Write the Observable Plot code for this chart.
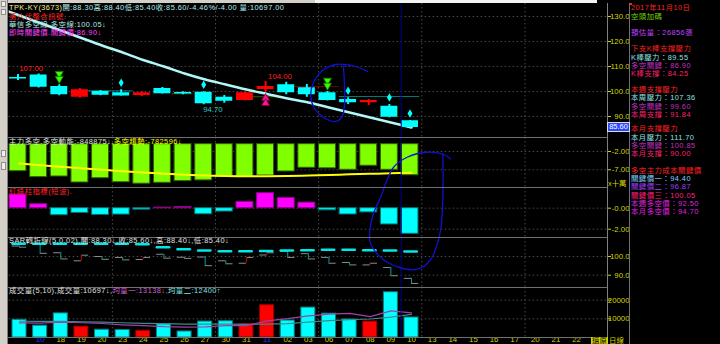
<!DOCTYPE html>
<html><head><meta charset="utf-8">
<script src="https://cdn.jsdelivr.net/npm/d3@7"></script>
<script src="https://cdn.jsdelivr.net/npm/@observablehq/plot@0.6"></script>
<style>
html,body{margin:0;padding:0;background:#000;}
#wrap{position:relative;width:720px;height:344px;background:#000;overflow:hidden;font-family:"Liberation Sans","Noto Sans CJK TC",sans-serif;font-size:7.4px;}
.t{position:absolute;white-space:nowrap;line-height:8px;height:8px;letter-spacing:0.45px;}
.b{position:absolute;}
#wrap svg{position:absolute;left:0;overflow:visible;}
</style></head><body><div id="wrap"></div>
<script>
// ---------------- data ----------------
const dateLabels = ["","10","18","19","20","23","24","25","26","27","30","31","11","02","03","06","07","08","09","10","13","14","15","16","17","20","21","22"];
const monthIdx = [1, 12];
const weekStarts = [5, 10, 15, 20, 25];
const opens  = [105.6,106.6,102.0, 97.7,100.0, 99.5, 98.4,101.2, 99.6, 99.7, 97.7, 96.4,100.8,102.7,101.5, 99.5, 96.8, 95.5, 94.1, 88.3];
const highs  = [106.8,107.0,102.7,101.2,100.4,100.7, 99.9,101.6, 99.9, 99.9, 98.4, 99.8,104.0,103.7,102.8,100.0, 97.5, 96.8, 94.8, 88.4];
const lows   = [104.4,101.4, 98.3, 97.3, 98.3, 98.2, 98.0, 99.0, 98.7, 94.7, 95.3, 96.2, 99.7, 98.7, 97.7, 96.2, 94.8, 94.4, 89.5, 85.4];
const closes = [105.0,101.7, 98.7,100.7, 98.5, 98.2, 99.5, 99.1, 99.0, 95.1, 96.1, 99.5,102.0, 99.5, 98.7, 96.4, 95.5, 96.4, 89.7, 85.6];
// price moving average, starting one bar before the first candle (index -1)
const priceMA = [133.4,130.4,127.4,124.4,121.4,118.4,115.6,112.6,110.0,107.2,104.8,102.8,100.8,99.0,97.2,95.6,93.6,91.6,89.6,87.6,85.6];
const sellSignalIdx = [2, 15];
const buySignalIdx = [12];
const diamondIdx = [5, 9, 16, 18, 19];
const extremeLabels = [{i:1, v:107.00, type:"high"}, {i:12, v:104.00, type:"high"}, {i:9, v:94.70, type:"low"}];
const keySegments = [
  {a:3.3, b:5.5, v:100.3, kind:"teal"},
  {a:7.4, b:8.4, v:99.1, kind:"olive"},
  {a:11.3, b:12.5, v:97.9, kind:"olive"},
  {a:13.3, b:15.5, v:102.0, kind:"red"},
  {a:15.5, b:19.4, v:98.0, kind:"teal"}
];
const mainForce = [-7.38,-9.0,-8.83,-10.47,-9.3,-10.4,-10.8,-10.55,-10.1,-9.9,-9.0,-9.0,-8.56,-7.46,-6.45,-6.6,-7.0,-5.9,-7.0,-8.49];
const forceTrend = [-5.3,-5.75,-6.2,-6.6,-7.0,-7.4,-7.75,-8.05,-8.35,-8.55,-8.7,-8.75,-8.75,-8.7,-8.55,-8.4,-8.25,-8.1,-7.95,-7.83];
const redGreen = [1.30,0.38,-0.67,-0.45,-0.64,-0.61,-0.14,0.05,0.10,-0.58,-0.32,0.60,1.43,0.98,0.53,-0.20,-0.60,-0.40,-1.55,-2.44];
const sar = [106.8,106.8,106.8,106.8,106.8,106.8,106.5,105.0,103.9,103.2,102.8,102.8,103.0,103.2,103.4,103.6,103.6,103.4,103.2,102.7];
const volume = [9450,6340,12900,5800,4150,3990,3600,7050,3220,8520,8690,7050,17270,9070,16000,12730,9620,8520,24200,10697];
const volMA5 = [7800,7700,8200,7900,7500,6800,6300,5800,5600,5700,6300,6400,8900,10100,11600,12500,12900,11200,14200,13138];
const volMA10 = [8700,8600,8600,8400,8200,7900,7600,7400,7200,7100,7100,7000,7200,7400,8200,9000,9500,9900,10900,12400];
const priceTicks = [90,100,110,120,130];
const forceTicks = [-2,-7];
const rgTicks = [0,-2], rgTickLabels = ["-0.00","-2.00"];
const sarTicks = [90,100];
const volTicks = [10000,20000];
const cursorIdx = [18.5];
// hand-drawn annotation strokes (bar index, price-axis units)
const scribble1 = [[16.87,108],[16.29,110],[15.70,110.8],[15.32,110.8],[14.69,108.4],[14.25,103.6],[14.11,98.4],[14.30,93.2],[14.74,89.6],[15.27,88],[15.61,89.6],[15.75,94.4],[15.75,102.4],[15.70,110]];
const scribble2 = [[20.52,75.2],[20.52,57.6],[20.41,44.4],[20.25,39.1],[20.0,33.7],[19.6,30.0],[19.11,28.7],[18.47,29.5],[17.82,31.7],[17.5,33.7],[17.1,37.7],[16.98,40.4],[17.1,49.7],[17.5,57.7],[18.13,69.7],[18.79,73.7],[19.76,75.7],[20.57,74.8],[20.89,73.1]];
const quote = {name:"TPK-KY(3673)", pct:"-4.46%", chg:"-4.00", vol:"10697.00"};
const infoTexts = ["2017年11月10日","空頭加碼","預估量：26856張","下支K棒支撐壓力","K棒壓力：89.55","多空關鍵：86.90","K棒支撐：84.25","本週支撐壓力","本周壓力：107.36","多空關鍵：99.60","本周支撐：91.84","本月支撐壓力","本月壓力：111.70","多空關鍵：100.85","本月支撐：90.00","多空主力成本關鍵價","關鍵價一：94.40","關鍵價二：96.87","關鍵價三：100.05","本週多空價：92.50","本月多空價：94.70"];

// ---------------- layout ----------------
const wrap = document.getElementById("wrap");
function div(cls, css, html) { const d = document.createElement("div"); d.className = cls; d.style.cssText = css; if (html != null) d.innerHTML = html; wrap.appendChild(d); return d; }
function place(svg, top) { svg.style.top = top + "px"; wrap.appendChild(svg); return svg; }

const idx = d3.range(20);
const candles = idx.map(i => ({i, o: opens[i], h: highs[i], l: lows[i], c: closes[i], up: closes[i] >= opens[i]}));
const CYAN = "#00ffff", RED = "#ff0000", GRID = "#4a4a4a", AX = "#d4d400";
const common = {
  width: 630, marginLeft: 8.7, marginRight: 23, marginTop: 0, marginBottom: 0,
  x: {domain: [-0.5, 28.5], axis: null},
  color: {type: "identity"},
  style: {background: "transparent", color: AX, fontSize: "7.8px", fontFamily: "'Liberation Sans', 'Noto Sans CJK TC', sans-serif", overflow: "visible"}
};
const gridOpts = {stroke: GRID, strokeOpacity: 1, strokeDasharray: "1.5,2.5"};
const vgrid = () => Plot.gridX(weekStarts.map(d => d - 0.5), gridOpts);
const yAxis = (ticks, fmt) => Plot.axisY(ticks, {anchor: "right", tickSize: 3, tickPadding: 19, textAnchor: "end", tickFormat: fmt, color: AX, label: null});

// top & left chrome
div("b", "left:0;top:0;width:7px;height:344px;background:#d4d0c8;border-right:1px solid #808080;");
[[1,6],[9,6],[150,7],[162,8]].forEach(([t,h]) => div("b", `left:1px;top:${t}px;width:5px;height:${h}px;background:#f0f0f0;border:1px solid #909090;box-sizing:border-box;`));
div("b", "left:8px;top:0;width:307px;height:3px;background:#d4d0c8;");
div("b", "left:315px;top:0;width:282px;height:3px;background:#f4f4f4;");

// ---- panel 1: price ----
const keyColor = {teal: "#007878", olive: "#3c5a00", red: "#7a0000"};
const p1 = Plot.plot({...common, height: 134, y: {domain: [81.6, 135.2]},
  marks: [
    Plot.gridY(priceTicks, gridOpts), vgrid(),
    Plot.ruleY(keySegments, {y: "v", x1: "a", x2: "b", stroke: d => keyColor[d.kind], strokeWidth: 1}),
    Plot.line(priceMA, {x: (d, i) => i - 1, y: d => d, stroke: "#b0f8f8", strokeWidth: 2.5, curve: "catmull-rom", clip: true}),
    Plot.ruleX(candles, {x: "i", y1: "l", y2: "h", stroke: d => d.up ? RED : CYAN, strokeWidth: 2, dx: -1.5}),
    Plot.rect(candles, {x1: d => d.i - 0.41, x2: d => d.i + 0.41, y1: "o", y2: "c", fill: d => d.up ? RED : CYAN, dx: -1.5}),
    Plot.dot(sellSignalIdx, {x: d => d, y: d => highs[d], symbol: "triangle", rotate: 180, r: 3, fill: "#33ff00", stroke: "#1a7000", strokeWidth: 0.8, dy: -11, dx: -1.5}),
    Plot.dot(sellSignalIdx, {x: d => d, y: d => highs[d], symbol: "triangle", rotate: 180, r: 3, fill: "#33ff00", stroke: "#1a7000", strokeWidth: 0.8, dy: -6, dx: -1.5}),
    Plot.dot(buySignalIdx, {x: d => d, y: d => lows[d], symbol: "triangle", r: 3, fill: "#ff1493", stroke: "#800040", strokeWidth: 0.8, dy: 6, dx: -1.5}),
    Plot.dot(buySignalIdx, {x: d => d, y: d => lows[d], symbol: "triangle", r: 3, fill: "#ff1493", stroke: "#800040", strokeWidth: 0.8, dy: 11, dx: -1.5}),
    Plot.dot(diamondIdx, {x: d => d, y: d => highs[d], symbol: "diamond", r: 2.6, fill: CYAN, dy: -7, dx: -1.5}),
    Plot.text(extremeLabels.filter(d => d.type === "high" && d.i < 5), {x: "i", y: "v", text: d => d.v.toFixed(2), fill: "#ff2020", textAnchor: "end", dx: 3, dy: -5.5}),
    Plot.text(extremeLabels.filter(d => d.type === "high" && d.i >= 5), {x: "i", y: "v", text: d => d.v.toFixed(2), fill: "#ff2020", textAnchor: "start", dx: 1, dy: -5}),
    Plot.text(extremeLabels.filter(d => d.type === "low"), {x: "i", y: "v", text: d => d.v.toFixed(2), fill: "#30c8c8", textAnchor: "start", dx: -2, dy: 4.5}),
    yAxis(priceTicks, d => d.toFixed(1))
  ]});
place(p1, 3);

// ---- panel 2: main force ----
const p2 = Plot.plot({...common, height: 50, y: {domain: [-11.84, 1.825]},
  marks: [
    Plot.gridY(forceTicks, gridOpts), vgrid(),
    Plot.rect(idx, {x1: i => i - 0.41, x2: i => i + 0.41, y1: 0, y2: i => mainForce[i], fill: "#80ff00", stroke: "#2e6400", strokeWidth: 1, dx: -1.5}),
    Plot.line(idx, {x: i => i, y: i => forceTrend[i], stroke: "#ffff00", strokeWidth: 2, curve: "catmull-rom"}),
    yAxis(forceTicks, d => d.toFixed(2))
  ]});
place(p2, 137);

// ---- panel 3: red/green histogram ----
const p3 = Plot.plot({...common, height: 50, y: {domain: [-2.79, 1.97]},
  marks: [
    Plot.gridY(rgTicks, gridOpts), vgrid(),
    Plot.rect(idx, {x1: i => i - 0.41, x2: i => i + 0.41, y1: 0, y2: i => redGreen[i], fill: i => redGreen[i] > 0 ? "#ff00ff" : CYAN, stroke: i => redGreen[i] > 0 ? "#900090" : "#007070", strokeWidth: 1, dx: -1.5}),
    yAxis(rgTicks, d => rgTickLabels[rgTicks.indexOf(d)])
  ]});
place(p3, 187);

// ---- panel 4: SAR ----
const p4 = Plot.plot({...common, height: 50, y: {domain: [83.42, 110.16]},
  marks: [
    Plot.gridY(sarTicks, gridOpts), vgrid(),
    Plot.ruleY(candles, {y: "o", x1: d => d.i - 0.35, x2: "i", stroke: "#8c8c8c", strokeWidth: 1}),
    Plot.ruleY(candles, {y: "c", x1: "i", x2: d => d.i + 0.35, stroke: "#8c8c8c", strokeWidth: 1}),
    Plot.ruleX(candles, {x: "i", y1: "o", y2: "c", stroke: d => d.up ? "#c00000" : "#00a0a0", strokeWidth: 1}),
    Plot.ruleY(idx, {y: i => sar[i], x1: i => i - 0.32, x2: i => i + 0.28, stroke: "#00e8e8", strokeWidth: 2.5, strokeLinecap: "round"}),
    yAxis(sarTicks, d => d.toFixed(1))
  ]});
place(p4, 237);

// ---- panel 5: volume + date axis ----
const p5 = Plot.plot({...common, height: 57, marginBottom: 7, y: {domain: [0, 26738]},
  marks: [
    Plot.gridY(volTicks, gridOpts), vgrid(),
    Plot.rect(candles, {x1: d => d.i - 0.34, x2: d => d.i + 0.34, y1: 0, y2: d => volume[d.i], fill: d => d.up ? RED : CYAN, stroke: d => d.up ? "#900000" : "#008080", strokeWidth: 1}),
    Plot.line(idx, {x: i => i, y: i => volMA10[i], stroke: "#3e8a8a", strokeWidth: 1.2}),
    Plot.line(idx, {x: i => i, y: i => volMA5[i], stroke: "#a040a8", strokeWidth: 1.2}),
    Plot.text(d3.range(dateLabels.length).filter(i => !monthIdx.includes(i)), {x: d => d, text: d => dateLabels[d], frameAnchor: "bottom", dy: 4, fill: AX}),
    Plot.text(monthIdx, {x: d => d, text: d => dateLabels[d], frameAnchor: "bottom", dy: 4, fill: "#2a2aff"}),
    yAxis(volTicks, d3.format("d"))
  ]});
place(p5, 287);

// ---- overlay: cursor and hand-drawn scribbles ----
const ov = Plot.plot({...common, height: 334, y: {domain: [1.6, 135.2], axis: null},
  marks: [
    Plot.ruleX(cursorIdx, {x: d => d, stroke: "#000090", strokeWidth: 1}),
    Plot.line(scribble1, {x: d => d[0], y: d => d[1], stroke: "#1010d0", strokeWidth: 1.3, curve: "catmull-rom"}),
    Plot.line(scribble2, {x: d => d[0], y: d => d[1], stroke: "#1010d0", strokeWidth: 1.3, curve: "catmull-rom"})
  ]});
place(ov, 3);

// separators
[136.5, 187, 237, 287, 337].forEach(y => div("b", `left:8px;top:${y}px;width:599px;height:1px;background:#707070;`));
div("b", "left:607px;top:3px;width:1px;height:341px;background:#808080;");
div("b", "left:629px;top:3px;width:1px;height:341px;background:#707070;");

// panel titles
const T = (x, yc, html) => div("t", `left:${x}px;top:${yc - 4}px;`, html);
const last = 19;
T(9, 8.2, `<span style="color:#f0f090">${quote.name}</span><span style="color:#b0eeee">開:${opens[last].toFixed(2)}高:${highs[last].toFixed(2)}低:${lows[last].toFixed(2)}收:${closes[last].toFixed(2)}/${quote.pct}/${quote.chg} 量:${quote.vol}</span>`);
T(9, 16.6, `<span style="color:#ff2020">第八代整合訊號.</span>`);
T(9, 25.0, `<span style="color:#b0e8e8">華信多空線.多空線:100.05↓</span>`);
T(9, 33.4, `<span style="color:#ff40ff">即時關鍵價.關鍵價:86.90↓</span>`);
T(9, 141.7, `<span style="color:#e0e0e0">主力多空.多空動能:-848875↓,</span><span style="color:#ffff00">多空趨勢:-782596↓</span>`);
T(9, 191.7, `<span style="color:#ff2020">紅綠柱指標(短波).</span>`);
T(9, 241, `<span style="color:#e0e0e0">SAR轉折線(5,0.02),開:${opens[last].toFixed(2)}↓,收:${closes[last].toFixed(2)}↓,高:${highs[last].toFixed(2)}↓,低:${lows[last].toFixed(2)}↓</span>`);
T(9, 291, `<span style="color:#e0e0e0">成交量(5,10),成交量:${volume[last]}↓,</span><span style="color:#d060d0">均量一:${volMA5[last]}↓,</span><span style="color:#80e0e0">均量二:${volMA10[last]}↑</span>`);

// right axis extras
const yc = 3 + p1.scale("y").apply(closes[last]);
div("t", `left:608px;top:${yc - 4}px;width:21px;text-align:center;letter-spacing:0;background:#2848ff;color:#fff;outline:1px solid #ddd;`, closes[last].toFixed(2));
div("t", `left:608px;top:180px;color:${AX};letter-spacing:0;`, "x十萬");
div("t", `left:591px;top:336.5px;color:#000;background:${AX};padding:0 1px;letter-spacing:0;`, "還原");
div("t", `left:609px;top:336.5px;color:${AX};letter-spacing:0;`, "日線");

// right info panel
const infoY = [8.3,16.6,33.3,49.3,57.6,65.9,74.2,90,98.3,106.6,114.9,129.3,137.6,145.9,154.2,170.7,179,187.3,195.6,203.9,212.2];
const infoColor = ["#ff2020","#70d000","#c040ff","#ff2020","#90e0e0","#c030c0","#ff2070","#ff2020","#90e0e0","#c030c0","#ff2070","#ff2020","#90e0e0","#c030c0","#ff2070","#ff2020","#80d0ff","#a040ff","#ff2080","#e020e0","#e020e0"];
infoTexts.forEach((s, k) => div("t", `left:631px;top:${infoY[k] - 4}px;color:${infoColor[k]};`, s));
div("b", "left:630px;top:3px;width:2px;height:2px;background:#ff2020;");
</script></body></html>
